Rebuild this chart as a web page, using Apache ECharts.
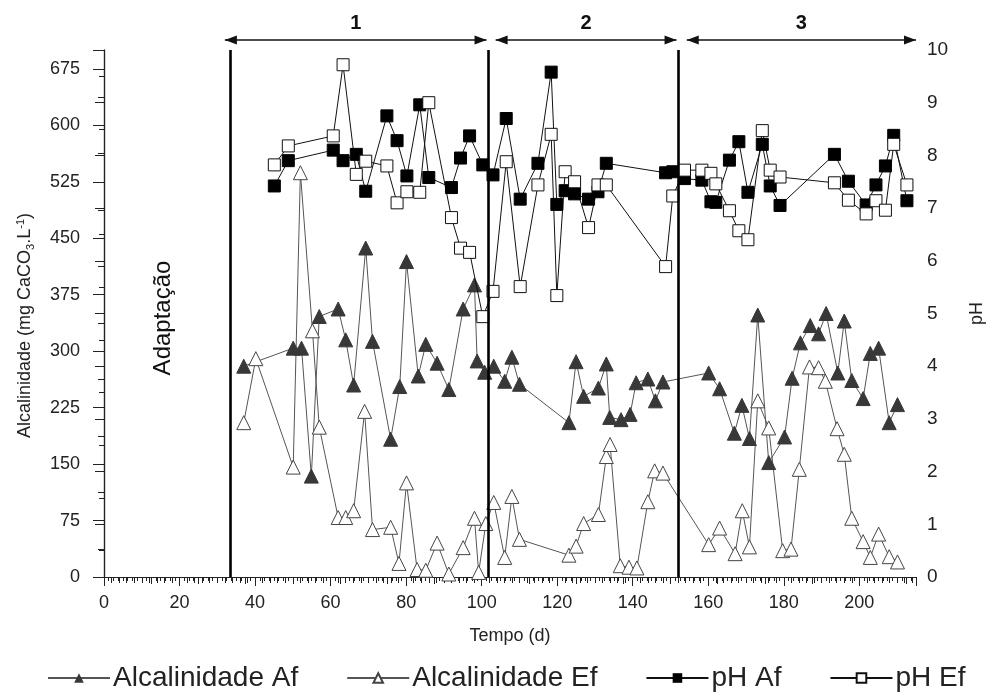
<!DOCTYPE html>
<html>
<head>
<meta charset="utf-8">
<script src="https://cdn.jsdelivr.net/npm/echarts@6/dist/echarts.min.js"></script>
<style>
  html, body { margin: 0; padding: 0; background: #fff; }
  #chart { width: 987px; height: 693px; }
</style>
</head>
<body>
<div id="chart"></div>
<script>
// alcalinidade (mg CaCO3/L) - afluente
const alkAfDays = [37, 50.1, 52.3, 54.9, 57, 62, 64, 66.1, 69.3, 71.1, 75.9, 78.3, 80.1, 83.2, 85.2, 88.2, 91.3, 95.1, 98.1, 98.8, 100.8,
  103.2, 106.1, 108, 110, 123.1, 125, 127, 130.9, 133, 133.9, 136.9, 139.3, 140.9, 144, 146, 148,
  160.1, 163, 166.9, 168.9, 170.9, 173.1, 176, 180.2, 182.2, 184.4, 187, 189.2, 191.2, 194.3, 196, 198, 201, 202.9, 205.1, 207.9, 210.1];
const alkAf = [280, 304, 304, 134, 346, 356, 315, 255, 437, 313, 183, 253, 419, 267, 309, 284, 249, 356, 388, 287, 272,
  280, 260, 292, 256, 205, 286, 240, 251, 283, 212, 209, 216, 258, 263, 234, 259,
  271, 250, 191, 228, 184, 348, 152, 186, 264, 311, 334, 323, 350, 271, 340, 261, 237, 297, 304, 205, 229];

// alcalinidade - efluente
const alkEfDays = [37, 40.2, 50.1, 52, 55.2, 57, 62, 64, 66.1, 69, 71.1, 75.9, 78.1, 80.1, 82.9, 85.2, 88.2, 91.3, 95.1, 98.1, 99.2, 101.1,
  103.2, 106.1, 108, 110, 123.1, 125, 127, 130.9, 133, 134, 136.7, 139, 141.1, 144, 145.8, 148,
  160.1, 163, 167.1, 169, 170.9, 173.1, 176, 179.7, 181.9, 184.1, 186.8, 189.2, 191, 194.1, 196, 198, 201, 202.9, 205.1, 207.9, 210.1];
const alkEf = [205, 290, 146, 537, 327, 199, 79, 79, 88, 220, 63, 66, 18, 125, 10, 9, 45, 4, 39, 78, 6, 71,
  99, 26, 107, 50, 29, 41, 71, 83, 160, 176, 15, 13, 12, 100, 141, 138,
  43, 65, 31, 88, 40, 234, 198, 35, 37, 143, 279, 278, 260, 197, 163, 78, 47, 26, 57, 27, 20];

// pH
const phDays = [45.1, 48.8, 60.7, 63.3, 66.8, 69.3, 74.9, 77.6, 80.2, 83.6, 86, 92, 94.4, 96.8, 100.3,
  103, 106.5, 110.2, 114.9, 118.4, 119.9, 122.1, 124.6, 128.3, 130.8, 133, 148.7, 150.6,
  153.7, 158.3, 160.7, 162, 165.6, 168.1, 170.5, 174.3, 176.4, 179, 193.4, 197.1, 201.8, 204.4, 206.9, 209.1, 212.6];
const phAf = [7.42, 7.90, 8.10, 7.90, 8.02, 7.32, 8.75, 8.28, 7.61, 8.96, 7.58, 7.39, 7.95, 8.37, 7.82,
  7.63, 8.70, 7.17, 7.85, 9.58, 7.07, 7.33, 7.27, 7.17, 7.31, 7.85, 7.67, 7.69,
  7.56, 7.53, 7.12, 7.11, 7.91, 8.26, 7.30, 8.21, 7.42, 7.05, 8.02, 7.51, 7.06, 7.44, 7.80, 8.38, 7.14];
const phEf = [7.82, 8.18, 8.37, 9.72, 7.64, 7.89, 7.80, 7.10, 7.31, 7.30, 9.00, 6.82, 6.24, 6.16, 4.94,
  5.42, 7.88, 5.51, 7.44, 8.40, 5.34, 7.69, 7.50, 6.63, 7.44, 7.44, 5.89, 7.23,
  7.72, 7.72, 7.66, 7.46, 6.95, 6.57, 6.40, 8.47, 7.72, 7.59, 7.48, 7.15, 6.89, 7.14, 6.96, 8.21, 7.44];

// fases
const phaseLines = [33.3, 101.7, 152];
const phaseArrows = [[32, 101.3], [103.7, 151.6], [154.3, 215]];
const phaseNames = ['1', '2', '3'];

const pairs = (xs, ys) => xs.map((x, i) => [x, ys[i]]);
const font = 'Liberation Sans, Arial, sans-serif';

const chart = echarts.init(document.getElementById('chart'));

const option = {
  animation: false,
  textStyle: { fontFamily: font },
  grid: { left: 104, right: 71, top: 50, bottom: 116, outerBoundsMode: 'none' },
  legend: {
    bottom: 1,
    left: 42,
    padding: [0, 5, 0, 5],
    itemWidth: 62,
    itemHeight: 12,
    itemGap: 48,
    textStyle: { fontSize: 28, color: '#222', fontFamily: font, padding: [0, 0, 0, -2] },
    data: ['Alcalinidade Af', 'Alcalinidade Ef', 'pH Af', 'pH Ef']
  },
  xAxis: [
    {
      type: 'value',
      min: 0,
      max: 215,
      interval: 20,
      name: 'Tempo (d)',
      nameLocation: 'middle',
      nameGap: 50,
      nameTextStyle: { fontSize: 18, color: '#222' },
      axisLine: { lineStyle: { color: '#222', width: 1.2 } },
      axisTick: { length: 9, lineStyle: { color: '#222' } },
      minorTick: { show: true, splitNumber: 10, length: 6, lineStyle: { color: '#222' } },
      axisLabel: { fontSize: 18, color: '#222', margin: 17, formatter: v => (v === 215 ? '' : v) },
      splitLine: { show: false }
    },
    {
      type: 'value',
      position: 'top',
      min: 0,
      max: 215,
      interval: 12.5,
      axisLine: { lineStyle: { color: '#222', width: 1.2 } },
      axisTick: { inside: true, length: 7, lineStyle: { color: '#222' } },
      minorTick: { show: true, splitNumber: 10, length: 4, lineStyle: { color: '#222' } },
      axisLabel: { show: false },
      splitLine: { show: false }
    }
  ],
  yAxis: [
    {
      type: 'value',
      min: 0,
      max: 700,
      interval: 75,
      name: '{n|Alcalinidade (mg CaCO}{sub|3}{n|.L}{sup|-1}{n|)}',
      nameLocation: 'middle',
      nameGap: 68,
      nameTextStyle: {
        color: '#222',
        padding: [0, 24, 0, 0],
        rich: {
          n: { fontSize: 18, color: '#222' },
          sub: { fontSize: 11, color: '#222', padding: [10, 0, 0, 0] },
          sup: { fontSize: 11, color: '#222', padding: [0, 0, 9, 0] }
        }
      },
      axisLine: { show: true, lineStyle: { color: '#222', width: 1.2 } },
      axisTick: { length: 11, lineStyle: { color: '#222' } },
      minorTick: { show: true, splitNumber: 2, length: 6, lineStyle: { color: '#222' } },
      axisLabel: {
        fontSize: 18, color: '#222', margin: 24,
        formatter: v => (v === 700 ? '' : v)
      },
      splitLine: { show: false }
    },
    {
      type: 'value',
      min: 0,
      max: 10,
      interval: 1,
      position: 'right',
      name: 'pH',
      nameLocation: 'middle',
      nameRotate: 90,
      nameGap: 52,
      nameTextStyle: { fontSize: 18, color: '#222' },
      axisLine: { show: true, lineStyle: { color: '#222', width: 1.2 } },
      axisTick: { inside: true, length: 9, lineStyle: { color: '#222' } },
      minorTick: { show: true, splitNumber: 2, length: 5, lineStyle: { color: '#222' } },
      axisLabel: { fontSize: 19, color: '#222', margin: 11 },
      splitLine: { show: false }
    }
  ],
  series: [
    {
      name: 'Alcalinidade Af',
      type: 'line',
      yAxisIndex: 0,
      data: pairs(alkAfDays, alkAf),
      symbol: 'triangle',
      symbolSize: 14,
      lineStyle: { color: '#555', width: 1 },
      itemStyle: { color: '#383838', borderColor: '#383838' },
      z: 3,
      markLine: {
        silent: true,
        symbol: 'none',
        label: { show: false },
        lineStyle: { color: '#000', width: 2.6, type: 'solid' },
        data: phaseLines.map(d => ({ xAxis: d }))
      }
    },
    {
      name: 'Alcalinidade Ef',
      type: 'line',
      yAxisIndex: 0,
      data: pairs(alkEfDays, alkEf),
      symbol: 'triangle',
      symbolSize: 14,
      lineStyle: { color: '#555', width: 1 },
      itemStyle: { color: '#fff', borderColor: '#444', borderWidth: 1 },
      z: 3
    },
    {
      name: 'pH Af',
      type: 'line',
      yAxisIndex: 1,
      data: pairs(phDays, phAf),
      symbol: 'rect',
      symbolSize: 12,
      lineStyle: { color: '#111', width: 1 },
      itemStyle: { color: '#000', borderColor: '#000' },
      z: 4
    },
    {
      name: 'pH Ef',
      type: 'line',
      yAxisIndex: 1,
      data: pairs(phDays, phEf),
      symbol: 'rect',
      symbolSize: 12,
      lineStyle: { color: '#111', width: 1 },
      itemStyle: { color: '#fff', borderColor: '#111', borderWidth: 1 },
      z: 4
    }
  ]
};

chart.setOption(option);

// setas das fases e rotulo de adaptacao
const arrowY = 40;
const els = [];
phaseArrows.forEach((a, i) => {
  const x1 = chart.convertToPixel({ xAxisIndex: 0 }, a[0]);
  const x2 = chart.convertToPixel({ xAxisIndex: 0 }, a[1]);
  els.push({ type: 'line', shape: { x1: x1, y1: arrowY, x2: x2, y2: arrowY }, style: { stroke: '#111', lineWidth: 1.6 } });
  els.push({ type: 'polygon', shape: { points: [[x1, arrowY], [x1 + 12, arrowY - 4.5], [x1 + 12, arrowY + 4.5]] }, style: { fill: '#111' } });
  els.push({ type: 'polygon', shape: { points: [[x2, arrowY], [x2 - 12, arrowY - 4.5], [x2 - 12, arrowY + 4.5]] }, style: { fill: '#111' } });
  els.push({
    type: 'text', x: (x1 + x2) / 2, y: 23,
    style: { text: phaseNames[i], font: 'bold 20px ' + font, fill: '#111', align: 'center', verticalAlign: 'middle' }
  });
});
els.push({
  type: 'text', x: 163, y: 318, rotation: Math.PI / 2,
  style: { text: 'Adaptação', font: '24px ' + font, fill: '#111', align: 'center', verticalAlign: 'middle' }
});
chart.setOption({ graphic: els });
</script>
</body>
</html>
